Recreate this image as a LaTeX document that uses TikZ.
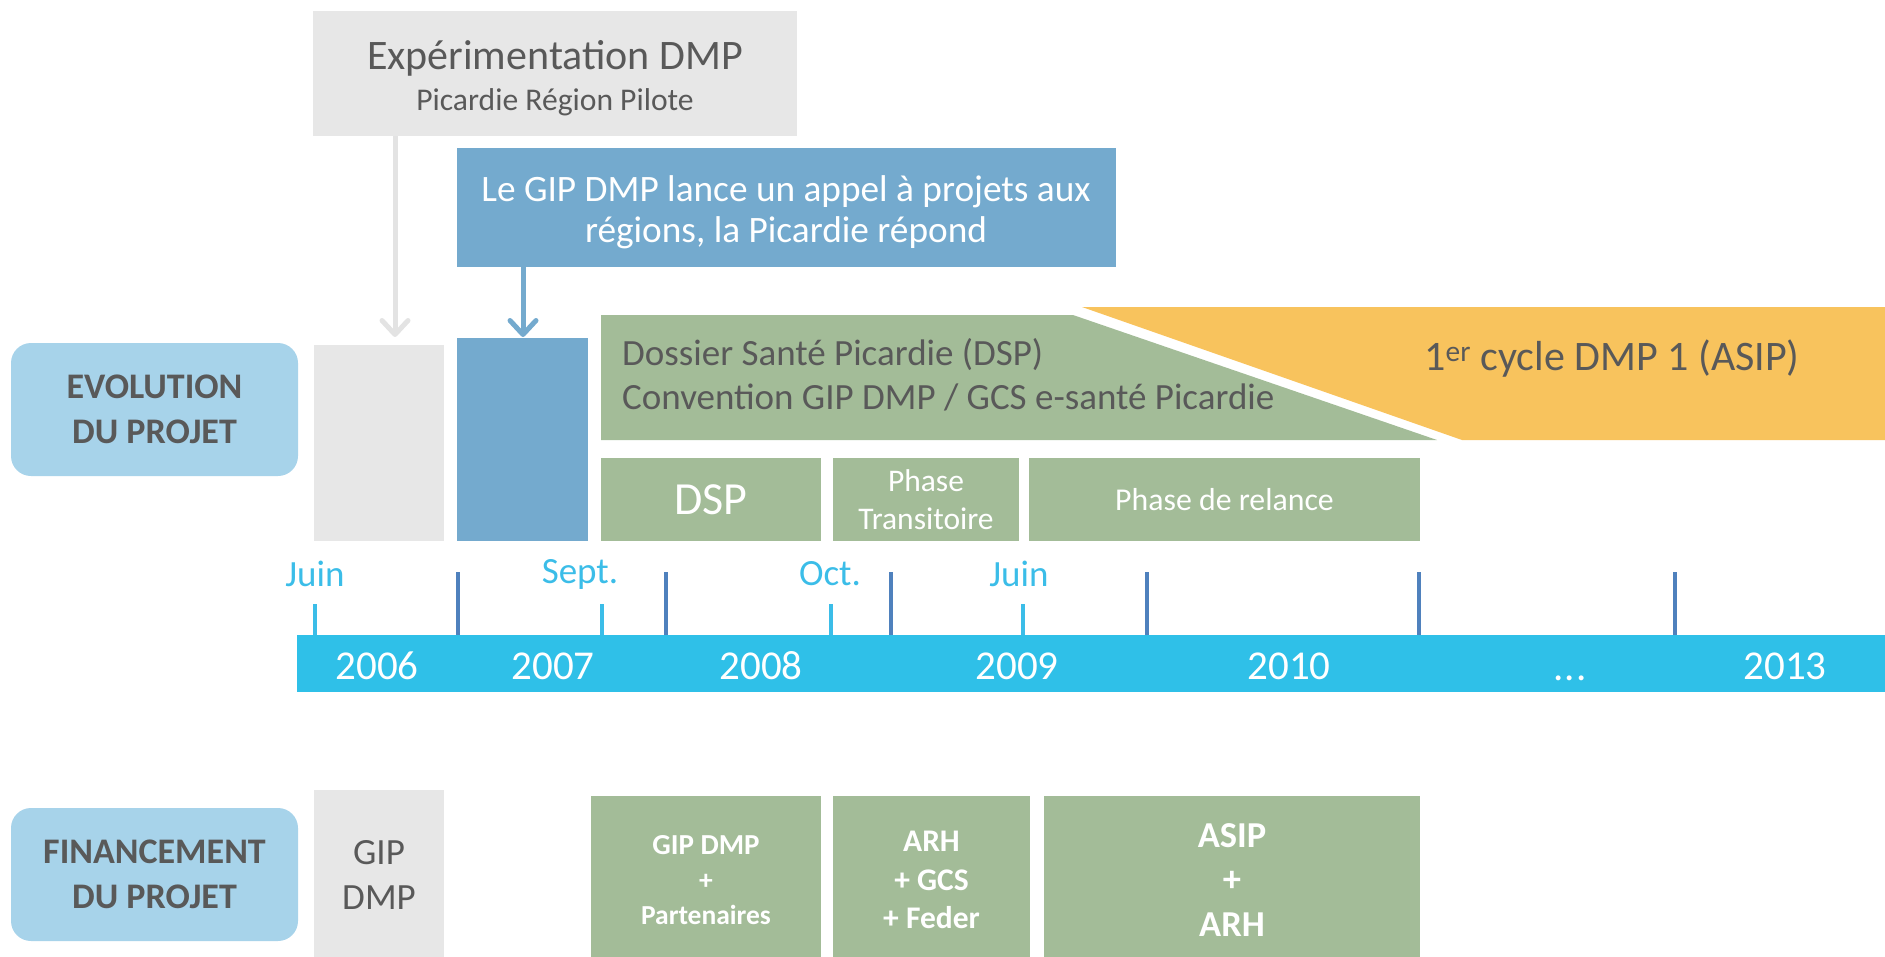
\documentclass[tikz,border=0pt]{standalone}
\usepackage{fontspec}
\setmainfont{Carlito}
\usetikzlibrary{arrows.meta}
\definecolor{greyfill}{HTML}{E7E7E7}
\definecolor{greyarrow}{HTML}{E3E3E3}
\definecolor{bluebox}{HTML}{74AACE}
\definecolor{greenbox}{HTML}{A3BC98}
\definecolor{orangebox}{HTML}{F8C35D}
\definecolor{barcyan}{HTML}{2FC0E8}
\definecolor{monthcyan}{HTML}{3BBDE8}
\definecolor{darktick}{HTML}{4F81BD}
\definecolor{labelblue}{HTML}{A7D3EA}
\definecolor{darktxt}{HTML}{595959}
\newcommand{\myfs}[2]{\fontsize{#1pt}{#2pt}\selectfont}
\begin{document}
\begin{tikzpicture}[x=1pt,y=-1pt,
  blk/.style={rectangle, anchor=north west, inner sep=0pt, outer sep=0pt, align=center},
  greyblk/.style={blk, fill=greyfill, text=darktxt},
  blueblk/.style={blk, fill=bluebox, text=white},
  greenblk/.style={blk, fill=greenbox, text=white},
  labelblk/.style={blk, fill=labelblue, rounded corners=20pt, text=darktxt, font=\bfseries\myfs{36}{45}},
  yearlbl/.style={text=white, font=\myfs{41}{45}, inner sep=0pt},
  monthlbl/.style={text=monthcyan, font=\myfs{37}{40}, inner sep=0pt},
  lighttick/.style={draw=monthcyan, line width=3.5pt},
  darkticks/.style={draw=darktick, line width=3.5pt},
  connarrow/.style={line width=5pt, -{Straight Barb[length=14pt, width=26pt, line cap=round, line join=round]}}
]
\useasboundingbox (0,0) rectangle (1885,956);

% top boxes
\node[greyblk, minimum width=484pt, minimum height=125pt] (exp) at (313,11) {};
\node[text=darktxt, font=\myfs{42}{48}, inner sep=0pt] (exptitle) at (555,58) {Expérimentation DMP};
\node[text=darktxt, font=\myfs{31.6}{36}, inner sep=0pt] (expsub) at (555,102) {Picardie Région Pilote};

\node[blueblk, minimum width=659pt, minimum height=119pt] (gip) at (457,148) {};
\node[text=white, font=\myfs{37.3}{41}, align=center, inner sep=0pt] (giptext) at (786,212)
  {Le GIP DMP lance un appel à projets aux\\régions, la Picardie répond};

% tall boxes
\node[greyblk, minimum width=130pt, minimum height=196pt] (gtall) at (314,345) {};
\node[blueblk, minimum width=131pt, minimum height=203pt] (btall) at (457,338) {};

\draw[connarrow, greyarrow] ([xshift=82pt]exp.south west) -- ([xshift=81pt, yshift=8pt]gtall.north west);
\draw[connarrow, bluebox] ([xshift=66pt]gip.south west) -- ([xshift=66pt, yshift=1pt]btall.north west);

% green trapezoid and orange band
\fill[greenbox] (601,315) -- (1073,315) -- (1437,440) -- (601,440) -- cycle;
\node[text=darktxt, font=\myfs{37}{44}, align=left, anchor=west, inner sep=0pt] (dossier) at (622,375)
  {Dossier Santé Picardie (DSP)\\Convention GIP DMP / GCS e-santé Picardie};
\fill[orangebox] (1082,307) -- (1885,307) -- (1885,440) -- (1462,440) -- cycle;
\node[text=darktxt, font=\myfs{42}{48}, inner sep=0pt] (cycle) at (1612,359)
  {1\textsuperscript{er} cycle DMP 1 (ASIP)};

% phase row
\node[greenblk, minimum width=220pt, minimum height=83pt, font=\myfs{46}{50}] (dsp) at (601,458) {DSP};
\node[greenblk, minimum width=186pt, minimum height=83pt, font=\myfs{31.5}{38}] (trans) at (833,458) {Phase\\Transitoire};
\node[greenblk, minimum width=391pt, minimum height=83pt, font=\myfs{31.8}{38}] (relance) at (1029,458) {Phase de relance};

% labels
\node[labelblk, minimum width=287pt, minimum height=133pt] (evo) at (11,343) {EVOLUTION\\DU PROJET};
\node[labelblk, minimum width=287pt, minimum height=133pt] (fin) at (11,808) {FINANCEMENT\\DU PROJET};

% timeline
\node[blk, fill=barcyan, minimum width=1600pt, minimum height=57pt] (bar) at (297,635) {};
\node[yearlbl] (y2006) at (377,666) {2006};
\node[yearlbl] (y2007) at (553,666) {2007};
\node[yearlbl] (y2008) at (761,666) {2008};
\node[yearlbl] (y2009) at (1017,666) {2009};
\node[yearlbl] (y2010) at (1289,666) {2010};
\node[yearlbl, anchor=base] (ydots) at (1570,680) {.\kern1pt.\kern1pt.};
\node[yearlbl] (y2013) at (1785,666) {2013};

\foreach \x in {315,602,831,1023} \draw[lighttick] (\x,604) -- (\x,635);
\foreach \x in {458,666,891,1147,1419,1675} \draw[darkticks] (\x,572) -- (\x,635);

\node[monthlbl] (m1) at (315,574) {Juin};
\node[monthlbl] (m2) at (580,574) {Sept.};
\node[monthlbl] (m3) at (830,574) {Oct.};
\node[monthlbl] (m4) at (1019,574) {Juin};

% financing row
\node[greyblk, minimum width=130pt, minimum height=170pt, font=\myfs{37}{45}] (fgip) at (314,790) {GIP\\DMP};
\node[greenblk, minimum width=230pt, minimum height=168pt, font=\bfseries\myfs{27.5}{35}] (f1) at (591,796)
  {{\myfs{29}{35}GIP DMP}\\+\\Partenaires};
\node[greenblk, minimum width=197pt, minimum height=168pt, font=\bfseries\myfs{31.5}{38.5}] (f2) at (833,796)
  {ARH\\+ GCS\\+ Feder};
\node[greenblk, minimum width=376pt, minimum height=168pt, font=\bfseries\myfs{36.5}{44.5}] (f3) at (1044,796)
  {ASIP\\+\\ARH};
\end{tikzpicture}
\end{document}
